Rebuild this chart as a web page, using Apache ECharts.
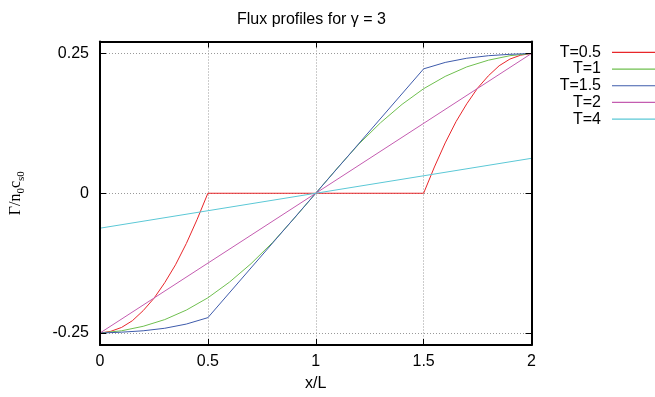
<!DOCTYPE html>
<html>
<head>
<meta charset="utf-8">
<script src="https://cdn.jsdelivr.net/npm/echarts@6/dist/echarts.min.js"></script>
<style>
  html, body { margin: 0; padding: 0; background: #fff; }
  #chart { width: 655px; height: 397px; }
</style>
</head>
<body>
<div id="chart"></div>
<script>
// values
const seriesNames = ['T=0.5', 'T=1', 'T=1.5', 'T=2', 'T=4'];
const seriesColors = ['#e8262a', '#6fbf4f', '#3e5bab', '#c45cb0', '#5bc8d6'];

const xT05 = [0, 0.05, 0.1, 0.15, 0.2, 0.25, 0.3, 0.35, 0.4, 0.45, 0.5, 1, 1.5, 1.55, 1.6, 1.65, 1.7, 1.75, 1.8, 1.85, 1.9, 1.95, 2];
const yT05 = [-0.25, -0.247, -0.24, -0.228, -0.21, -0.188, -0.16, -0.128, -0.09, -0.047, 0, 0, 0, 0.047, 0.09, 0.128, 0.16, 0.188, 0.21, 0.228, 0.24, 0.247, 0.25];

const xT1 = [0, 0.1, 0.2, 0.3, 0.4, 0.5, 0.6, 0.7, 0.8, 0.9, 1, 1.1, 1.2, 1.3, 1.4, 1.5, 1.6, 1.7, 1.8, 1.9, 2];
const yT1 = [-0.25, -0.246, -0.238, -0.226, -0.209, -0.187, -0.159, -0.126, -0.088, -0.045, 0, 0.045, 0.088, 0.126, 0.159, 0.187, 0.209, 0.226, 0.238, 0.246, 0.25];

const xT15 = [0, 0.1, 0.2, 0.3, 0.4, 0.5, 1, 1.5, 1.6, 1.7, 1.8, 1.9, 2];
const yT15 = [-0.25, -0.2485, -0.246, -0.2415, -0.234, -0.2225, 0, 0.2225, 0.234, 0.2415, 0.246, 0.2485, 0.25];

const xT2 = [0, 2];
const yT2 = [-0.25, 0.25];

const xT4 = [0, 2];
const yT4 = [-0.0625, 0.0625];

const yTicks = [-0.25, 0, 0.25];
const yLimit = 0.2714286;

const curves = [[xT05, yT05], [xT1, yT1], [xT15, yT15], [xT2, yT2], [xT4, yT4]];

const font = 'Liberation Sans, Arial, Helvetica, sans-serif';
const serif = 'Liberation Serif, Times New Roman, serif';
const frame = () => ({ show: true, onZero: false, lineStyle: { color: '#000', width: 2 } });
const inTick = () => ({ show: true, inside: true, length: 6, lineStyle: { color: '#000', width: 1 } });
const dotted = () => ({ show: true, lineStyle: { color: '#999', width: 1, type: [1, 2] } });

const chart = echarts.init(document.getElementById('chart'));

chart.setOption({
  animation: false,
  textStyle: { fontFamily: font },
  title: {
    text: 'Flux profiles for γ = 3',
    left: 237,
    top: 12,
    padding: 0,
    textStyle: { fontSize: 16, fontWeight: 'normal', color: '#000', fontFamily: font }
  },
  legend: {
    data: seriesNames,
    orient: 'vertical',
    align: 'right',
    right: 0,
    top: 44,
    padding: 0,
    itemGap: 0,
    itemWidth: 43,
    itemHeight: 1.2,
    icon: 'rect',
    textStyle: { fontSize: 16, color: '#000', lineHeight: 16.7, padding: [0, 6, 0, 0], fontFamily: font }
  },
  grid: { left: 95.5, right: 123.5, top: 41.5, bottom: 51.5 },
  xAxis: [
    {
      // bottom frame, ticks and labels
      type: 'value',
      min: 0,
      max: 2,
      interval: 0.5,
      z: 5,
      name: 'x/L',
      nameLocation: 'middle',
      nameGap: 31,
      nameTextStyle: { fontSize: 16, color: '#000', fontFamily: font },
      axisLine: frame(),
      axisTick: inTick(),
      splitLine: { show: false },
      axisLabel: { fontSize: 16, color: '#000', margin: 9, fontFamily: font }
    },
    {
      // top frame with mirrored ticks
      type: 'value',
      position: 'top',
      min: 0,
      max: 2,
      interval: 0.5,
      z: 5,
      axisLine: frame(),
      axisTick: inTick(),
      splitLine: { show: false },
      axisLabel: { show: false }
    },
    {
      // dotted grid only, drawn under everything
      type: 'value',
      position: 'bottom',
      min: 0,
      max: 2,
      interval: 0.5,
      z: 0,
      axisLine: { show: false },
      axisTick: { show: false },
      axisLabel: { show: false },
      splitLine: dotted()
    }
  ],
  yAxis: [
    {
      type: 'value',
      min: -yLimit,
      max: yLimit,
      z: 5,
      name: '{a|Γ/n}{b|0}{a|c}{b|s0}',
      nameLocation: 'middle',
      nameRotate: 90,
      nameGap: 73,
      nameTextStyle: {
        rich: {
          a: { fontSize: 16, color: '#000', lineHeight: 22, verticalAlign: 'middle', fontFamily: serif },
          b: { fontSize: 11, color: '#000', lineHeight: 22, verticalAlign: 'bottom', fontFamily: serif }
        }
      },
      axisLine: frame(),
      axisTick: Object.assign(inTick(), { customValues: yTicks }),
      splitLine: { show: false },
      axisLabel: {
        customValues: yTicks,
        fontSize: 16,
        color: '#000',
        margin: 11,
        fontFamily: font,
        formatter: v => (Math.abs(v) < 1e-9 ? '0' : String(v))
      }
    },
    {
      type: 'value',
      position: 'right',
      min: -yLimit,
      max: yLimit,
      z: 5,
      axisLine: frame(),
      axisTick: Object.assign(inTick(), { customValues: yTicks }),
      splitLine: { show: false },
      axisLabel: { show: false, customValues: yTicks }
    },
    {
      type: 'value',
      position: 'left',
      min: -yLimit,
      max: yLimit,
      z: 0,
      axisLine: { show: false },
      axisTick: { show: false, customValues: yTicks },
      axisLabel: { show: false, customValues: yTicks },
      splitLine: Object.assign(dotted(), { customValues: yTicks })
    }
  ],
  series: curves.map(([xs, ys], i) => ({
    name: seriesNames[i],
    type: 'line',
    xAxisIndex: 0,
    yAxisIndex: 0,
    z: 2,
    showSymbol: false,
    symbol: 'none',
    color: seriesColors[i],
    lineStyle: { width: 1, color: seriesColors[i] },
    data: xs.map((x, k) => [x, ys[k]])
  }))
});
</script>
</body>
</html>
